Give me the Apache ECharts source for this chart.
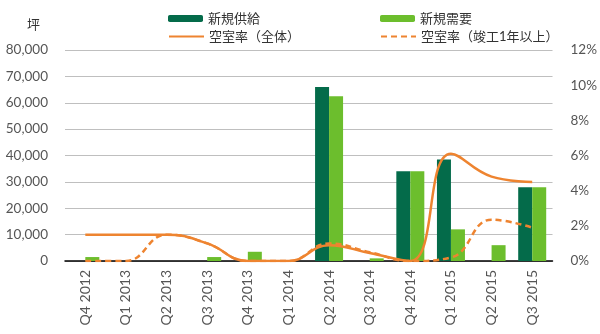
<!DOCTYPE html>
<html><head><meta charset="utf-8">
<script src="https://cdn.jsdelivr.net/npm/echarts@6/dist/echarts.min.js"></script>
<style>html,body{margin:0;padding:0;background:#fff}#c{width:600px;height:334px}</style>
</head><body><div id="c"></div>
<script>
const categories = ['Q4 2012','Q1 2013','Q2 2013','Q3 2013','Q4 2013','Q1 2014','Q2 2014','Q3 2014','Q4 2014','Q1 2015','Q2 2015','Q3 2015'];
const supply = [0, 0, 0, 0, 0, 0, 66000, 0, 34000, 38500, 0, 28000];
const demand = [1500, 0, 0, 1500, 3500, 0, 62500, 1000, 34000, 12000, 6000, 28000];
const vacancyAll = [1.5, 1.5, 1.5, 1.0, 0, 0, 0.9, 0.45, 0, 6.1, 4.8, 4.5];
const vacancyOld = [0, 0, 1.5, 1.0, 0, 0, 1.0, 0.5, 0, 0.2, 2.35, 1.9];
const seriesNames = ['新規供給', '新規需要', '空室率（全体）', '空室率（竣工1年以上）'];

const font = 'Lato, "Noto Sans CJK JP", sans-serif';
const txt = '#555555';
const DARK = '#046B4A', LIGHT = '#6CBE2D', ORANGE = '#EE8430';
const chart = echarts.init(document.getElementById('c'));
function leg(name, left, top, isLine) {
  const o = { data: [name], left: left, top: top, itemWidth: 35, itemHeight: 7, itemGap: 4,
    textStyle: { fontFamily: font, fontSize: 13, color: '#333' }, padding: 0 };
  if (isLine) { o.itemStyle = { opacity: 0 }; }
  return o;
}
chart.setOption({
  animation: false,
  textStyle: { fontFamily: font },
  legend: [leg(seriesNames[0], 168, 12, false), leg(seriesNames[1], 380, 12, false),
           leg(seriesNames[2], 168, 30, true), leg(seriesNames[3], 380, 30, true)],
  graphic: [{ type: 'text', left: 27, top: 18, style: { text: '坪', font: '13px ' + font, fill: '#333' } }],
  grid: { left: 65, right: 45, top: 50, bottom: 73 },
  xAxis: {
    type: 'category', data: categories,
    axisLine: { lineStyle: { color: '#000', width: 1.5 } },
    axisTick: { show: false },
    axisLabel: { rotate: 90, color: txt, fontSize: 14, fontFamily: font, margin: 9 }
  },
  yAxis: [{
    type: 'value', min: 0, max: 80000, interval: 10000,
    axisLabel: { color: txt, fontSize: 13.5, fontFamily: font, margin: 17,
      formatter: v => v.toLocaleString('en-US') },
    splitLine: { lineStyle: { color: '#BFBFBF', width: 1 } },
    axisLine: { show: false }, axisTick: { show: false }
  }, {
    type: 'value', min: 0, max: 12, interval: 2,
    axisLabel: { color: txt, fontSize: 13.5, fontFamily: font, margin: 18, formatter: '{value}%' },
    splitLine: { show: false }, axisLine: { show: false }, axisTick: { show: false }
  }],
  series: [
    { name: seriesNames[0], type: 'bar', data: supply, barWidth: 14, barGap: '0%', itemStyle: { color: DARK } },
    { name: seriesNames[1], type: 'bar', data: demand, barWidth: 14, barGap: '0%', itemStyle: { color: LIGHT } },
    { name: seriesNames[2], type: 'line', yAxisIndex: 1, data: vacancyAll, smooth: 0.45, symbol: 'none',
      lineStyle: { color: ORANGE, width: 2.5 }, itemStyle: { color: ORANGE } },
    { name: seriesNames[3], type: 'line', yAxisIndex: 1, data: vacancyOld, smooth: 0.45, symbol: 'none',
      lineStyle: { color: ORANGE, width: 2.5, type: [6, 4] }, itemStyle: { color: ORANGE } }
  ]
});
</script></body></html>
